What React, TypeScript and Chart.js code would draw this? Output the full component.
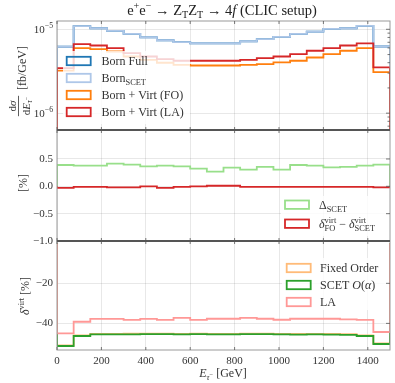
import React, { useEffect, useRef } from 'react';
import { Chart, registerables } from 'chart.js';
Chart.register(...registerables);

// ---------- data ----------
const BIN_EDGES = [0, 75, 150, 225, 300, 375, 450, 525, 600, 675, 750, 825, 900, 975, 1050, 1125, 1200, 1275, 1350, 1425, 1500];

const BORN_FULL = [6.19e-6, 1.09e-5, 1.03e-5, 9.6e-6, 8.8e-6, 8.0e-6, 7.4e-6, 7.05e-6, 6.78e-6, 6.78e-6, 6.78e-6, 7.16e-6, 7.64e-6, 8.14e-6, 8.8e-6, 9.4e-6, 1.01e-5, 1.03e-5, 1.1e-5, 6.24e-6];
const BORN_SCET = [6.19e-6, 1.09e-5, 1.03e-5, 9.6e-6, 8.8e-6, 8.0e-6, 7.4e-6, 7.05e-6, 6.78e-6, 6.78e-6, 6.78e-6, 7.16e-6, 7.64e-6, 8.14e-6, 8.8e-6, 9.4e-6, 1.01e-5, 1.03e-5, 1.1e-5, 6.24e-6];
const BORN_VIRT_FO = [3.21e-6, 5.97e-6, 5.81e-6, 5.44e-6, 4.74e-6, 4.33e-6, 3.99e-6, 3.77e-6, 3.7e-6, 3.7e-6, 3.7e-6, 3.77e-6, 3.85e-6, 4.03e-6, 4.22e-6, 4.61e-6, 5.07e-6, 5.55e-6, 5.97e-6, 3.09e-6];
const BORN_VIRT_LA = [3.45e-6, 6.67e-6, 6.41e-6, 5.97e-6, 5.21e-6, 4.74e-6, 4.42e-6, 4.22e-6, 4.22e-6, 4.22e-6, 4.22e-6, 4.33e-6, 4.54e-6, 4.74e-6, 5.07e-6, 5.55e-6, 5.97e-6, 6.41e-6, 6.78e-6, 3.51e-6];

const DELTA_SCET = [0.39, 0.377, 0.377, 0.414, 0.396, 0.365, 0.377, 0.365, 0.323, 0.27, 0.341, 0.305, 0.354, 0.305, 0.39, 0.377, 0.347, 0.354, 0.377, 0.396];
const DELTA_FO_MINUS_SCET = [-0.03, -0.01, -0.01, -0.02, -0.02, 0.0, -0.03, -0.01, 0.0, 0.01, 0.01, -0.01, -0.01, -0.01, -0.01, -0.01, -0.01, -0.01, -0.01, -0.02];

const DVIRT_FIXED_ORDER = [-51.0, -46.0, -45.2, -45.2, -45.1, -45.1, -45.1, -45.2, -45.1, -45.2, -45.2, -45.1, -45.1, -45.2, -45.3, -45.2, -45.3, -45.4, -46.0, -50.0];
const DVIRT_SCET = [-51.3, -46.3, -45.5, -45.5, -45.5, -45.4, -45.4, -45.5, -45.4, -45.5, -45.5, -45.4, -45.4, -45.5, -45.6, -45.5, -45.6, -45.7, -46.3, -50.3];
const DVIRT_LA = [-45.0, -39.2, -37.8, -37.8, -38.3, -37.8, -38.3, -37.3, -38.3, -37.7, -37.7, -37.3, -37.7, -38.2, -37.7, -37.7, -37.7, -38.0, -38.3, -44.3];

const X_TICKS = [0, 200, 400, 600, 800, 1000, 1200, 1400];
const Y1_TICKS = [1e-6, 1e-5];
const Y1_MINOR = [2e-7, 3e-7, 4e-7, 5e-7, 6e-7, 7e-7, 8e-7, 9e-7, 2e-6, 3e-6, 4e-6, 5e-6, 6e-6, 7e-6, 8e-6, 9e-6, 2e-5];
const Y2_TICKS = [-1.0, -0.5, 0.0, 0.5];
const Y3_TICKS = [-40, -20];

// ---------- helpers ----------
const FAMILY = '"Liberation Serif", "DejaVu Serif", serif';
const TXT = '#333333';

type Part = { t: string; s?: number; dy?: number; it?: boolean; ov?: boolean };

function fontStr(size: number, it?: boolean) {
  return `${it ? 'italic ' : ''}${size}px ${FAMILY}`;
}

function layoutRich(ctx: CanvasRenderingContext2D, parts: Part[], size: number) {
  let x = 0;
  let prevStart = 0;
  let prevW = 0;
  const items: { p: Part; x: number; fs: number }[] = [];
  for (const p of parts) {
    const fs = size * (p.s ?? 1);
    ctx.font = fontStr(fs, p.it);
    const w = ctx.measureText(p.t).width;
    if (p.ov) {
      items.push({ p, x: prevStart, fs });
      const adv = Math.max(prevW, w);
      x = prevStart + adv;
      prevW = adv;
    } else {
      items.push({ p, x, fs });
      prevStart = x;
      prevW = w;
      x += w;
    }
  }
  return { items, width: x };
}

function drawRich(ctx: CanvasRenderingContext2D, parts: Part[], x: number, y: number, size: number, align: 'left' | 'center' | 'right', color = TXT) {
  const { items, width } = layoutRich(ctx, parts, size);
  const x0 = align === 'center' ? x - width / 2 : align === 'right' ? x - width : x;
  ctx.save();
  ctx.fillStyle = color;
  ctx.textAlign = 'left';
  ctx.textBaseline = 'alphabetic';
  for (const it of items) {
    ctx.font = fontStr(it.fs, it.p.it);
    ctx.fillText(it.p.t, x0 + it.x, y + (it.p.dy ?? 0) * size);
  }
  ctx.restore();
  return width;
}

function steps(vals: number[], base: number) {
  const pts = [{ x: BIN_EDGES[0], y: base }];
  vals.forEach((v, i) => pts.push({ x: BIN_EDGES[i], y: v }));
  pts.push({ x: BIN_EDGES[vals.length], y: vals[vals.length - 1] });
  pts.push({ x: BIN_EDGES[vals.length], y: base });
  return pts;
}

function ds(label: string, vals: number[], base: number, axis: string, color: string, order: number) {
  return {
    label,
    data: steps(vals, base),
    yAxisID: axis,
    borderColor: color,
    backgroundColor: color,
    borderWidth: 1.8,
    stepped: true as const,
    pointRadius: 0,
    fill: false,
    order,
  };
}

type LegendEntry = { color: string; parts: Part[] };

function drawLegend(ctx: CanvasRenderingContext2D, box: [number, number, number, number], px: number, tx: number, ys: number[], entries: LegendEntry[]) {
  ctx.save();
  ctx.fillStyle = 'rgba(255,255,255,0.8)';
  ctx.fillRect(box[0], box[1], box[2], box[3]);
  entries.forEach((e, i) => {
    ctx.strokeStyle = e.color;
    ctx.lineWidth = 1.8;
    ctx.strokeRect(px, ys[i] - 4.2, 24, 8.4);
    drawRich(ctx, e.parts, tx, ys[i] + 4, 12, 'left');
  });
  ctx.restore();
}

const decor = {
  id: 'decor',
  afterDatasetsDraw(chart: any) {
    const ctx: CanvasRenderingContext2D = chart.ctx;
    const a = chart.chartArea;
    const yTop = chart.scales.yTop;
    const yMid = chart.scales.yMid;
    const yBot = chart.scales.yBot;
    const xS = chart.scales.x;

    // legends
    drawLegend(ctx, [63, 51, 127, 73], 66.7, 101.5, [61, 78, 95, 112], [
      { color: '#1f77b4', parts: [{ t: 'Born Full' }] },
      { color: '#aec7e8', parts: [{ t: 'Born' }, { t: 'SCET', s: 0.7, dy: 0.25 }] },
      { color: '#ff7f0e', parts: [{ t: 'Born + Virt (FO)' }] },
      { color: '#d62728', parts: [{ t: 'Born + Virt (LA)' }] },
    ]);
    drawLegend(ctx, [281, 196, 107, 40], 285, 319, [204.7, 223.7], [
      { color: '#98df8a', parts: [{ t: 'Δ' }, { t: 'SCET', s: 0.7, dy: 0.25 }] },
      {
        color: '#d62728',
        parts: [
          { t: 'δ', it: true }, { t: 'virt', s: 0.7, dy: -0.42 }, { t: 'FO', s: 0.7, dy: 0.3, ov: true },
          { t: ' − ' },
          { t: 'δ', it: true }, { t: 'virt', s: 0.7, dy: -0.42 }, { t: 'SCET', s: 0.7, dy: 0.3, ov: true },
        ],
      },
    ]);
    drawLegend(ctx, [282, 258, 106, 52], 286.7, 320, [268, 285, 302], [
      { color: '#ffbb78', parts: [{ t: 'Fixed Order' }] },
      { color: '#2ca02c', parts: [{ t: 'SCET ' }, { t: 'O', it: true }, { t: '(' }, { t: 'α', it: true }, { t: ')' }] },
      { color: '#ff9896', parts: [{ t: 'LA' }] },
    ]);

    ctx.save();
    // spines
    ctx.strokeStyle = '#9a9a9a';
    ctx.lineWidth = 1;
    ctx.strokeRect(a.left, a.top, a.right - a.left, a.bottom - a.top);
    // panel separators
    ctx.strokeStyle = '#555555';
    ctx.lineWidth = 2;
    [yMid.top, yBot.top].forEach((y: number) => {
      ctx.beginPath();
      ctx.moveTo(a.left, y);
      ctx.lineTo(a.right, y);
      ctx.stroke();
    });
    // right-side inward ticks
    ctx.strokeStyle = '#555555';
    ctx.lineWidth = 0.8;
    const tick = (y: number, len: number) => {
      ctx.beginPath();
      ctx.moveTo(a.right - len, y);
      ctx.lineTo(a.right, y);
      ctx.stroke();
    };
    Y1_TICKS.forEach((v) => tick(yTop.getPixelForValue(v), 4));
    Y1_MINOR.forEach((v) => {
      const y = yTop.getPixelForValue(v);
      if (y > yTop.top + 1 && y < yTop.bottom - 1) tick(y, 2.5);
    });
    Y2_TICKS.forEach((v) => tick(yMid.getPixelForValue(v), 4));
    Y3_TICKS.forEach((v) => tick(yBot.getPixelForValue(v), 4));
    // x inward ticks at panel boundaries
    X_TICKS.forEach((v) => {
      const x = xS.getPixelForValue(v);
      [a.top, yMid.top, yBot.top, a.bottom].forEach((y: number, i: number) => {
        ctx.beginPath();
        if (i === 0) { ctx.moveTo(x, y); ctx.lineTo(x, y + 3); }
        else if (i === 3) { ctx.moveTo(x, y); ctx.lineTo(x, y - 3); }
        else { ctx.moveTo(x, y - 3); ctx.lineTo(x, y + 3); }
        ctx.stroke();
      });
    });
    ctx.restore();

    // top panel y tick labels (10^-n)
    Y1_TICKS.forEach((v) => {
      const y = yTop.getPixelForValue(v);
      const exp = Math.round(Math.log10(v));
      drawRich(ctx, [{ t: '10' }, { t: '−' + Math.abs(exp), s: 0.7, dy: -0.45 }], a.left - 4, y + 4, 11, 'right');
    });

    // title
    drawRich(ctx, [
      { t: 'e' }, { t: '+', s: 0.7, dy: -0.42 }, { t: 'e' }, { t: '−', s: 0.7, dy: -0.42 },
      { t: ' → Z' }, { t: 'T', s: 0.7, dy: 0.22 }, { t: 'Z' }, { t: 'T', s: 0.7, dy: 0.22 },
      { t: ' → 4' }, { t: 'f', it: true }, { t: ' (CLIC setup)' },
    ], 222, 15, 14.5, 'center', '#222222');

    // x title
    drawRich(ctx, [
      { t: 'E', it: true }, { t: 'τ', s: 0.7, dy: 0.22, it: true }, { t: '−', s: 0.55, dy: -0.02 }, { t: ' [GeV]' },
    ], 223, 377, 12, 'center');

    // y label panel 1 (rotated)
    ctx.save();
    ctx.translate(20, 78);
    ctx.rotate(-Math.PI / 2);
    {
      const fc = -28;
      drawRich(ctx, [{ t: 'd' }, { t: 'σ', it: true }], fc, -4, 11, 'center');
      const dw = drawRich(ctx, [{ t: 'd' }, { t: 'E', it: true }, { t: 'τ', s: 0.7, dy: 0.22, it: true }, { t: '−', s: 0.55, dy: -0.02 }], fc, 9.5, 11, 'center');
      ctx.strokeStyle = TXT;
      ctx.lineWidth = 0.8;
      ctx.beginPath();
      ctx.moveTo(fc - dw / 2 - 1, -1.5);
      ctx.lineTo(fc + dw / 2 + 1, -1.5);
      ctx.stroke();
      drawRich(ctx, [{ t: '[fb/GeV]' }], -12, 5.5, 12, 'left');
    }
    ctx.restore();

    // y label panel 2
    ctx.save();
    ctx.translate(23, 183);
    ctx.rotate(-Math.PI / 2);
    drawRich(ctx, [{ t: '[%]' }], 0, 4, 12, 'center');
    ctx.restore();

    // y label panel 3
    ctx.save();
    ctx.translate(25, 296);
    ctx.rotate(-Math.PI / 2);
    drawRich(ctx, [{ t: 'δ', it: true }, { t: 'virt', s: 0.7, dy: -0.42 }, { t: ' [%]' }], 0, 4, 12, 'center');
    ctx.restore();
  },
};

const GRID = 'rgba(0,0,0,0.09)';
const tickFont = { family: FAMILY, size: 11 };
const fmt = (v: number, d: number) => (v < 0 ? '−' : '') + Math.abs(v).toFixed(d);

export default function App() {
  const ref = useRef<HTMLCanvasElement>(null);
  useEffect(() => {
    document.body.style.margin = '0';
    const chart = new Chart(ref.current as HTMLCanvasElement, {
      type: 'line',
      data: {
        datasets: [
          ds('Born Full', BORN_FULL, 1e-8, 'yTop', '#1f77b4', 9),
          ds('Born SCET', BORN_SCET, 1e-8, 'yTop', '#aec7e8', 8),
          ds('Born + Virt (FO)', BORN_VIRT_FO, 1e-8, 'yTop', '#ff7f0e', 7),
          ds('Born + Virt (LA)', BORN_VIRT_LA, 1e-8, 'yTop', '#d62728', 6),
          ds('Delta SCET', DELTA_SCET, 0, 'yMid', '#98df8a', 5),
          ds('FO - SCET', DELTA_FO_MINUS_SCET, 0, 'yMid', '#d62728', 4),
          ds('Fixed Order', DVIRT_FIXED_ORDER, 0, 'yBot', '#ffbb78', 3),
          ds('SCET O(alpha)', DVIRT_SCET, 0, 'yBot', '#2ca02c', 2),
          ds('LA', DVIRT_LA, 0, 'yBot', '#ff9896', 1),
        ] as any,
      },
      options: {
        animation: false,
        responsive: false,
        events: [],
        layout: { padding: { left: 0, right: 5, top: 21, bottom: 0 } },
        plugins: { legend: { display: false }, title: { display: false }, tooltip: { enabled: false } },
        elements: { point: { radius: 0 }, line: { tension: 0 } },
        scales: {
          x: {
            type: 'linear',
            position: 'bottom',
            min: 0,
            max: 1500,
            afterBuildTicks: (s: any) => { s.ticks = X_TICKS.map((v) => ({ value: v })); },
            afterFit: (s: any) => { s.height = 33; },
            ticks: { font: tickFont, color: TXT, padding: 5, maxRotation: 0, autoSkip: false, callback: (v: any) => String(v) },
            grid: { color: GRID, drawTicks: false },
            border: { display: false },
          },
          yBot: {
            type: 'linear',
            position: 'left',
            stack: 'panels',
            stackWeight: 109,
            min: -53.3,
            max: 1.15,
            afterBuildTicks: (s: any) => { s.ticks = Y3_TICKS.map((v) => ({ value: v })); },
            afterFit: (s: any) => { s.width = 57; },
            ticks: { font: tickFont, color: TXT, padding: 4, callback: (v: any) => fmt(Number(v), 0) },
            grid: { color: GRID, drawTicks: false },
            border: { display: false },
          },
          yMid: {
            type: 'linear',
            position: 'left',
            stack: 'panels',
            stackWeight: 111,
            min: -1.0,
            max: 1.03,
            afterBuildTicks: (s: any) => { s.ticks = Y2_TICKS.map((v) => ({ value: v })); },
            afterFit: (s: any) => { s.width = 57; },
            ticks: { font: tickFont, color: TXT, padding: 4, callback: (v: any) => fmt(Number(v), 1) },
            grid: { color: GRID, drawTicks: false },
            border: { display: false },
          },
          yTop: {
            type: 'logarithmic',
            position: 'left',
            stack: 'panels',
            stackWeight: 109,
            min: 6.3e-7,
            max: 1.256e-5,
            afterBuildTicks: (s: any) => { s.ticks = Y1_TICKS.map((v) => ({ value: v })); },
            afterFit: (s: any) => { s.width = 57; },
            ticks: { display: false },
            grid: { color: GRID, drawTicks: false },
            border: { display: false },
          },
        },
      } as any,
      plugins: [decor],
    });
    return () => chart.destroy();
  }, []);
  return <canvas ref={ref} width={395} height={383} style={{ display: 'block' }} />;
}
